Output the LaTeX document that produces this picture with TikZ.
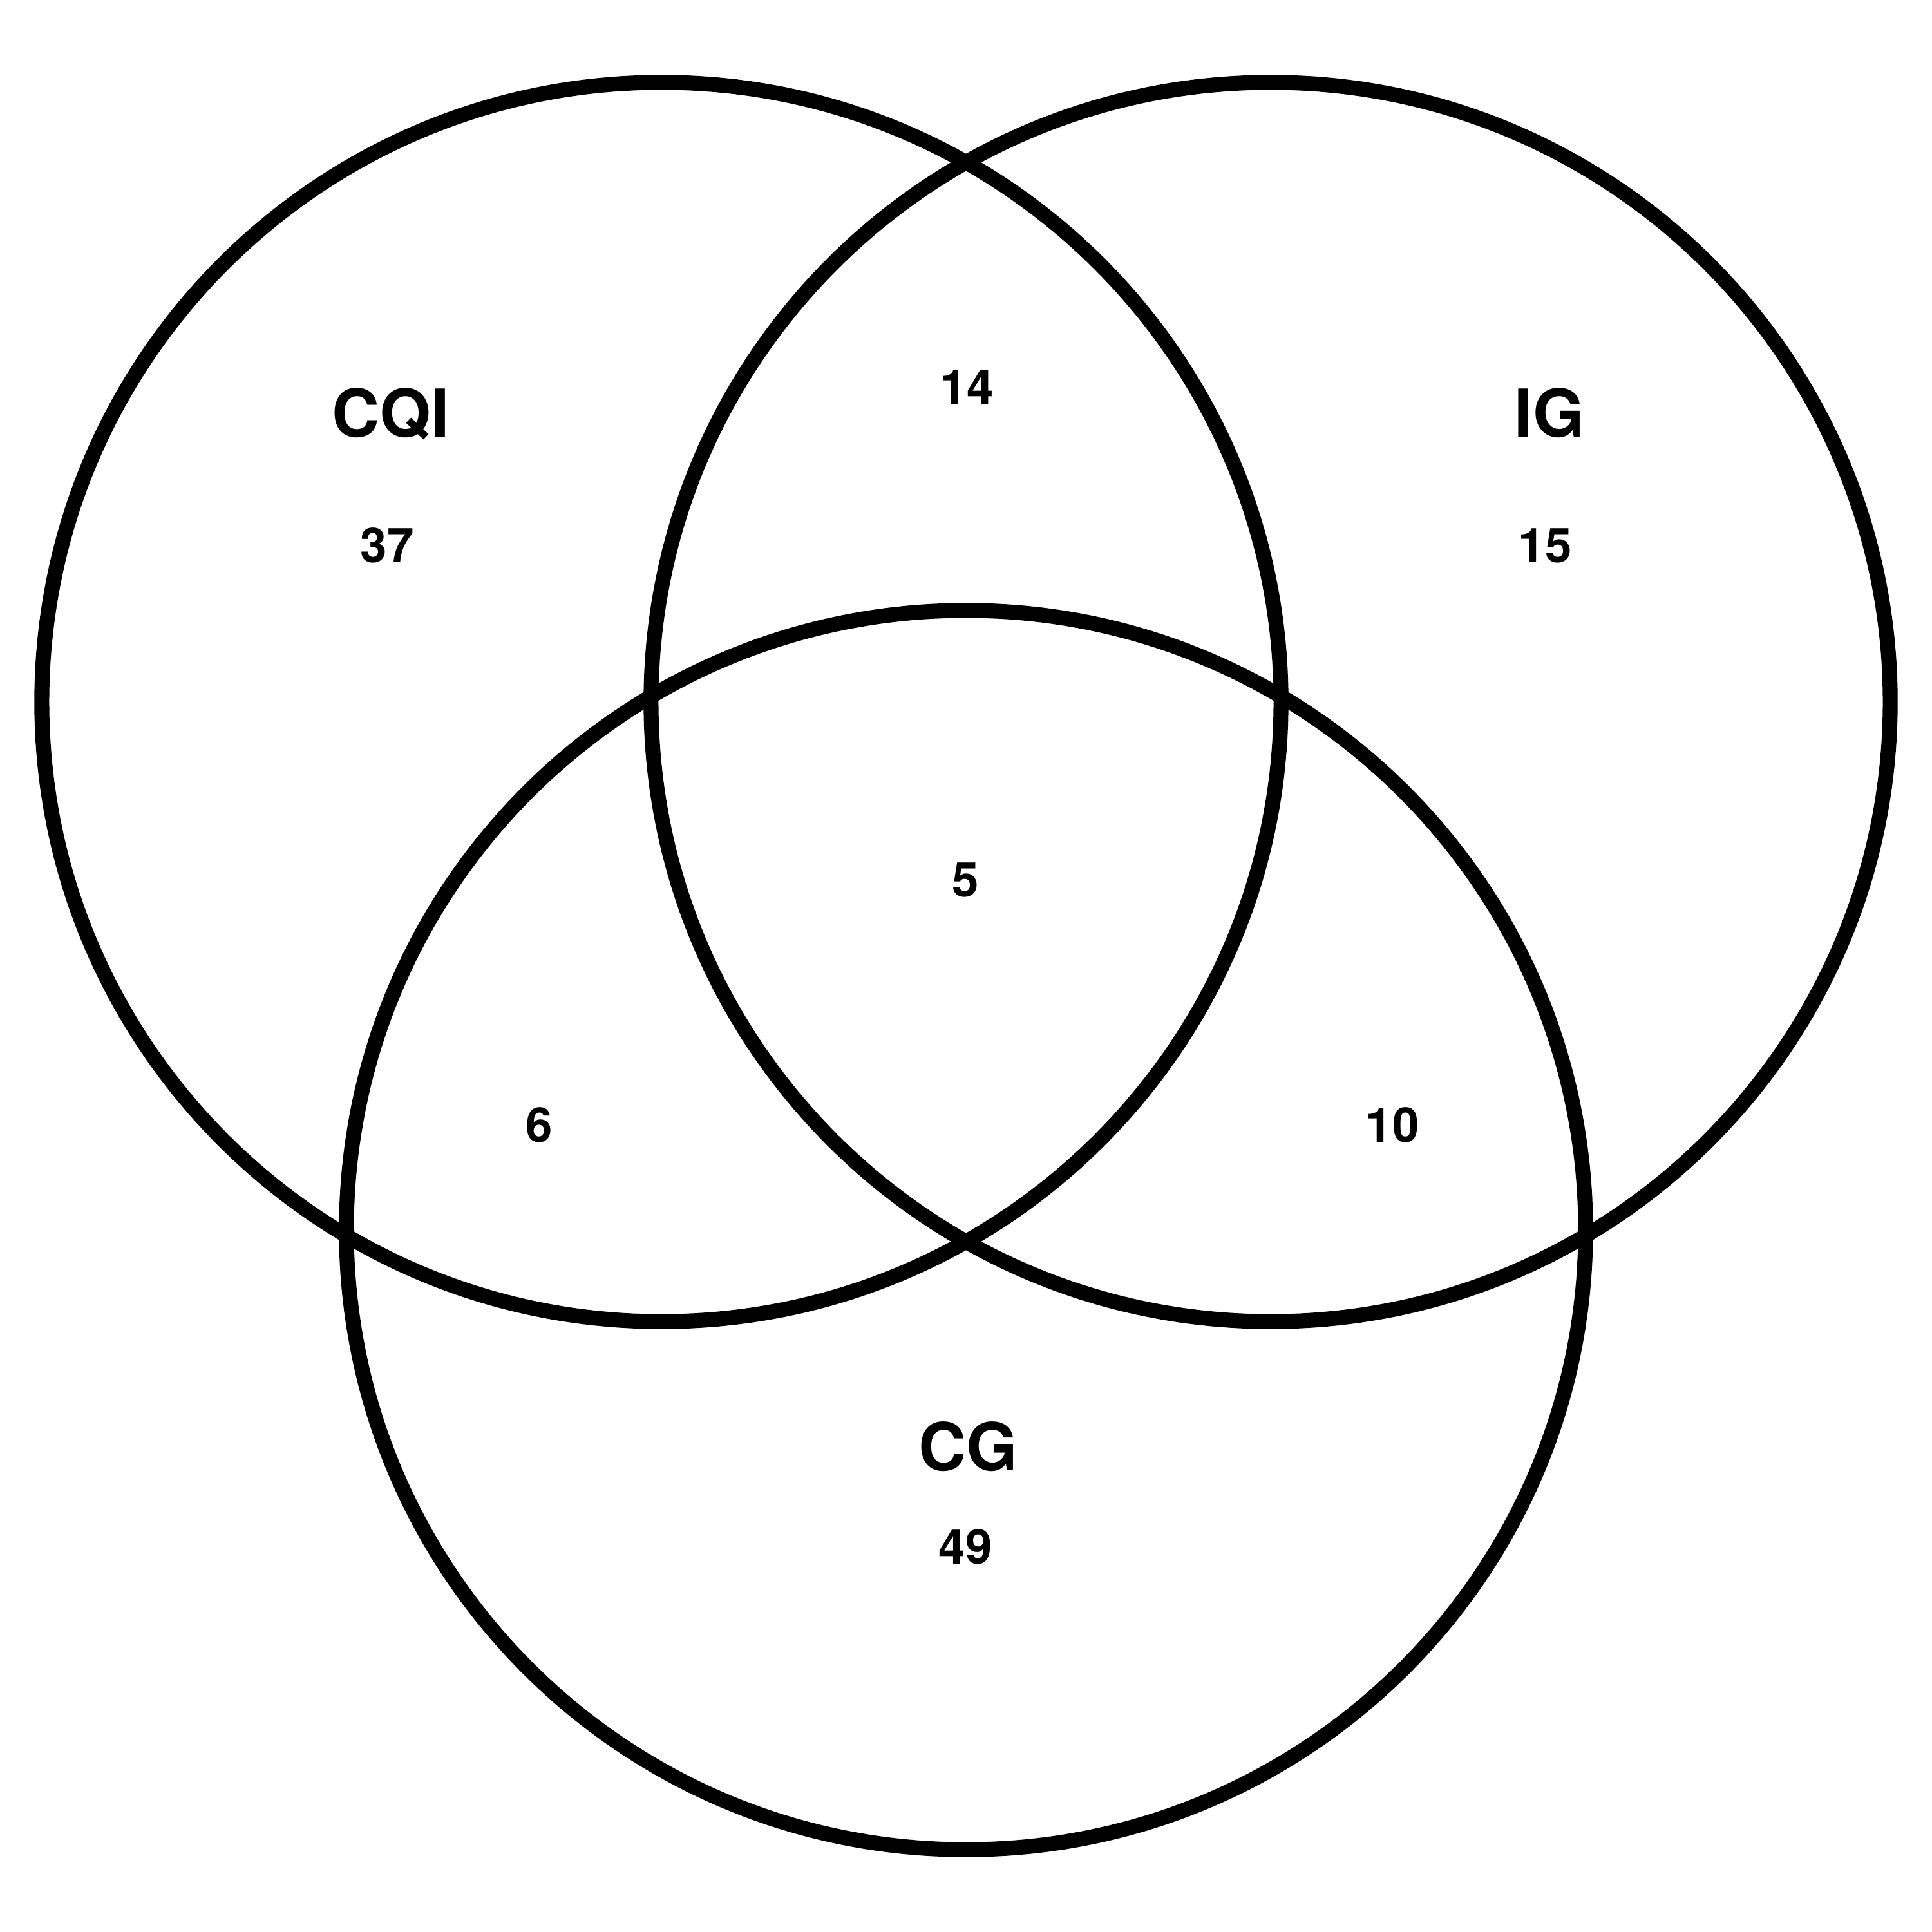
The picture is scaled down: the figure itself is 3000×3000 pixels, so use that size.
\documentclass[tikz,border=0pt]{standalone}
\usepackage{fontspec}
\setsansfont{TeX Gyre Heros}
\tikzset{
  venn/.style={draw=black, line width=3.3pt},
  setname/.style={font=\sffamily\bfseries\fontsize{14.6}{18}\selectfont, inner sep=0pt, anchor=base},
  count/.style={font=\sffamily\bfseries\fontsize{10.6}{13}\selectfont, inner sep=0pt, anchor=base}
}
\begin{document}
\begin{tikzpicture}[x=0.005cm, y=-0.005cm]
\useasboundingbox (0,0) rectangle (3000,3000);
\draw[venn] (1027,1090) circle[radius=4.815cm];
\draw[venn] (1973,1090) circle[radius=4.815cm];
\draw[venn] (1500,1910) circle[radius=4.815cm];
\node[setname] (cqi) at (607,678) {CQI};
\node[count] (cqin) at (601,873) {37};
\node[setname] (ig) at (2406,678) {IG};
\node[count] (ign) at (2399,873) {15};
\node[setname] (cg) at (1503,2283) {CG};
\node[count] (cgn) at (1499,2428) {49};
\node[count] (cqiig) at (1501,627) {14};
\node[count] (all) at (1499,1392) {5};
\node[count] (cqicg) at (837,1773) {6};
\node[count] (igcg) at (2162,1773) {10};
\end{tikzpicture}
\end{document}
